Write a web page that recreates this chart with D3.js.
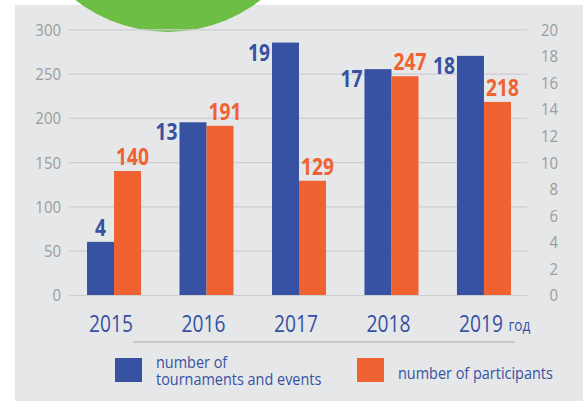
<!DOCTYPE html>
<html>
<head>
<meta charset="utf-8">
<script src="https://cdn.jsdelivr.net/npm/d3@7"></script>
<style>
    body { margin: 0; background: #fff; }
    svg { display: block; }
    text { font-family: "Open Sans", "Noto Sans", sans-serif; }
</style>
</head>
<body>
<div id="chart"></div>
<script>
// Data
const years = ["2015", "2016", "2017", "2018", "2019"];
const events = [4, 13, 19, 17, 18];          // right axis
const participants = [140, 191, 129, 247, 218]; // left axis
const leftTicks = [0, 50, 100, 150, 200, 250, 300];
const rightTicks = [0, 2, 4, 6, 8, 10, 12, 14, 16, 18, 20];

// Chart sizes
const width = 583,
    height = 401,
    margin = ({top: 29.3, right: 54, bottom: 106, left: 69});

const blue = "#3751a3",
    orange = "#f06232",
    grey = "#9b9c9e";

// Squeeze text horizontally to mimic the narrow font of the original
function condense(sel, f) {
    sel.each(function () {
        const w = this.getComputedTextLength();
        d3.select(this)
            .attr("textLength", w * f)
            .attr("lengthAdjust", "spacingAndGlyphs");
    });
}

const svg = d3.select("#chart")
    .append("svg")
    .attr("width", width)
    .attr("height", height);

// Background panel
svg.append("rect")
    .attr("x", 15)
    .attr("y", 5)
    .attr("width", width - 15)
    .attr("height", height - 5)
    .attr("fill", "#e6e7e8");

// Green circle at the top
svg.append("circle")
    .attr("cx", 168)
    .attr("cy", -118)
    .attr("r", 150)
    .attr("fill", "#6dbe45");

// Scales
const x = d3.scaleBand()
    .domain(years)
    .range([margin.left, width - margin.right])
    .paddingInner(0.416)
    .paddingOuter(0.195);

const xSub = d3.scaleBand()
    .domain(["events", "participants"])
    .range([0, x.bandwidth()]);

const yLeft = d3.scaleLinear()
    .domain([0, 300])
    .range([height - margin.bottom, margin.top]);

const yRight = d3.scaleLinear()
    .domain([0, 20])
    .range([height - margin.bottom, margin.top]);

// Left axis with gridlines
svg.append("g")
    .attr("transform", `translate(${margin.left},0)`)
    .call(d3.axisLeft(yLeft)
        .tickValues(leftTicks)
        .tickSize(-(width - margin.left - margin.right - 2))
        .tickPadding(8))
    .call(g => g.select(".domain").remove())
    .call(g => g.selectAll("line").attr("stroke", "#cdcecf").attr("stroke-width", 1.2))
    .call(g => g.selectAll("text")
        .attr("fill", grey)
        .style("font-size", "17px")
        .attr("dy", "0.35em")
        .call(condense, 0.88));

// Right axis
svg.append("g")
    .attr("transform", `translate(${width - 25},0)`)
    .call(d3.axisRight(yRight)
        .tickValues(rightTicks)
        .tickSize(0)
        .tickPadding(0))
    .call(g => g.select(".domain").remove())
    .call(g => g.selectAll("text")
        .attr("fill", grey)
        .attr("text-anchor", "end")
        .style("font-size", "17px")
        .attr("dy", "0.35em")
        .call(condense, 0.88));

// Bars
const groups = svg.append("g")
    .selectAll("g")
    .data(years)
    .join("g")
    .attr("transform", d => `translate(${x(d)},0)`);

groups.append("rect")
    .attr("x", xSub("events"))
    .attr("width", xSub.bandwidth())
    .attr("y", (d, i) => yRight(events[i]))
    .attr("height", (d, i) => yRight(0) - yRight(events[i]))
    .attr("fill", blue);

groups.append("rect")
    .attr("x", xSub("participants"))
    .attr("width", xSub.bandwidth())
    .attr("y", (d, i) => yLeft(participants[i]))
    .attr("height", (d, i) => yLeft(0) - yLeft(participants[i]))
    .attr("fill", orange);

// Blue value labels (left of bar, or above when bar is short)
groups.append("text")
    .text((d, i) => events[i])
    .attr("x", (d, i) => i === 0 ? xSub("events") + xSub.bandwidth() / 2 : xSub("events") - 2)
    .attr("y", (d, i) => i === 0 ? yRight(events[i]) - 6 : yRight(events[i]) + 18)
    .attr("text-anchor", (d, i) => i === 0 ? "middle" : "end")
    .attr("fill", blue)
    .attr("font-weight", 700)
    .style("font-size", "24px")
    .call(condense, 0.8);

// Orange value labels (above bar)
groups.append("text")
    .text((d, i) => participants[i])
    .attr("x", xSub("participants") + xSub.bandwidth() / 2 + 5)
    .attr("y", (d, i) => yLeft(participants[i]) - 6)
    .attr("text-anchor", "middle")
    .attr("fill", orange)
    .attr("font-weight", 700)
    .style("font-size", "24px")
    .call(condense, 0.8);

// Year labels (squeezed with a transform, "год" after the last year)
const yearText = groups.append("g")
    .attr("transform", `translate(${x.bandwidth() / 2 - 3},332) scale(0.8,1)`)
    .append("text")
    .attr("text-anchor", "middle")
    .attr("fill", blue)
    .style("font-size", "24px");

yearText.append("tspan").text(d => d);

yearText.filter((d, i) => i === years.length - 1)
    .each(function () {
        const half = this.getComputedTextLength() / 2;
        d3.select(this).append("tspan")
            .attr("x", half + 7)
            .attr("dy", -1)
            .attr("text-anchor", "start")
            .style("font-size", "17px")
            .text("год");
    });

// Separator line
svg.append("line")
    .attr("x1", 133)
    .attr("x2", 515)
    .attr("y1", 342)
    .attr("y2", 342)
    .attr("stroke", "#bcbdbf")
    .attr("stroke-width", 1.5);

// Legend
const legendItems = [
    {lines: ["number of", "tournaments and events"], color: blue, x: 115},
    {lines: ["number of participants"], color: orange, x: 357}
];

const legend = svg.append("g")
    .selectAll("g")
    .data(legendItems)
    .join("g")
    .attr("transform", d => `translate(${d.x},358)`);

legend.append("rect")
    .attr("width", 27)
    .attr("height", 24)
    .attr("fill", d => d.color);

legend.append("g")
    .attr("transform", d => `translate(41,${d.lines.length === 1 ? 21 : 10}) scale(0.85,1)`)
    .append("text")
    .attr("fill", blue)
    .style("font-size", "17px")
    .selectAll("tspan")
    .data(d => d.lines)
    .join("tspan")
    .attr("x", 0)
    .attr("dy", (d, i) => i === 0 ? 0 : 17)
    .text(d => d);
</script>
</body>
</html>
